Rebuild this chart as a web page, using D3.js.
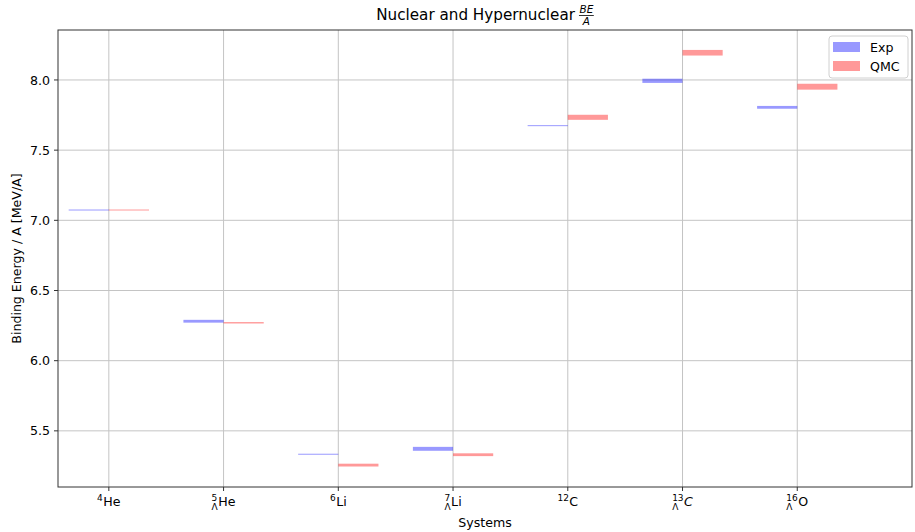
<!DOCTYPE html>
<html>
<head>
<meta charset="utf-8">
<script src="https://cdn.jsdelivr.net/npm/d3@7.8.5/dist/d3.min.js"></script>
<style>
  body { margin: 0; background: #fff; }
  svg { font-family: "DejaVu Sans", sans-serif; }
</style>
</head>
<body>
<svg id="chart" width="915" height="532"></svg>
<script>
// --- data ---
const massNumbers = ['4', '5', '6', '7', '12', '13', '16'];
const isHyper = [false, true, false, true, false, true, true];
const elements = ['He', 'He', 'Li', 'Li', 'C', 'C', 'O'];
const italicElem = [false, false, false, false, false, true, false];

const expValues = [7.074, 6.281, 5.334, 5.372, 7.675, 7.994, 7.805];
const expErrors = [0.003, 0.010, 0.003, 0.014, 0.003, 0.015, 0.010];
const qmcValues = [7.074, 6.270, 5.256, 5.330, 7.734, 8.194, 7.952];
const qmcErrors = [0.003, 0.005, 0.010, 0.010, 0.018, 0.020, 0.021];

const seriesNames = ['Exp', 'QMC'];
const seriesColors = ['#0000ff', '#ff0000'];
const yTicks = [5.5, 6.0, 6.5, 7.0, 7.5, 8.0];

const margin = { top: 30, right: 3, bottom: 45, left: 58 };
const W = 915, H = 532;
const innerW = W - margin.left - margin.right;
const innerH = H - margin.top - margin.bottom;
const barWidth = 0.35;
const fs = 12.6;

const svg = d3.select('#chart');
const g = svg.append('g').attr('transform', `translate(${margin.left},${margin.top})`);

const x = d3.scaleLinear().domain([-0.443, 7.0]).range([0, innerW]);
const y = d3.scaleLinear().domain([5.10, 8.356]).range([innerH, 0]);

const idx = d3.range(massNumbers.length);

// grid
g.append('g').selectAll('line.vg').data(idx).enter().append('line')
  .attr('x1', d => x(d)).attr('x2', d => x(d))
  .attr('y1', 0).attr('y2', innerH)
  .attr('stroke', '#c4c4c4').attr('stroke-width', 1);
g.append('g').selectAll('line.hg').data(yTicks).enter().append('line')
  .attr('x1', 0).attr('x2', innerW)
  .attr('y1', d => y(d)).attr('y2', d => y(d))
  .attr('stroke', '#c4c4c4').attr('stroke-width', 1);

// floating bars: value +/- error
const series = [
  { vals: expValues, errs: expErrors, off: -barWidth },
  { vals: qmcValues, errs: qmcErrors, off: 0 }
];
series.forEach((s, si) => {
  g.append('g').selectAll('rect').data(idx).enter().append('rect')
    .attr('x', d => x(d + s.off))
    .attr('width', x(barWidth) - x(0))
    .attr('y', d => y(s.vals[d] + s.errs[d]))
    .attr('height', d => Math.max(1, y(s.vals[d] - s.errs[d]) - y(s.vals[d] + s.errs[d])))
    .attr('fill', seriesColors[si])
    .attr('fill-opacity', 0.4);
});

// axes frame
g.append('rect').attr('width', innerW).attr('height', innerH)
  .attr('fill', 'none').attr('stroke', '#333').attr('stroke-width', 1);

// y ticks
const yAxis = g.append('g');
yTicks.forEach(t => {
  yAxis.append('line').attr('x1', -4).attr('x2', 0)
    .attr('y1', y(t)).attr('y2', y(t)).attr('stroke', '#333');
  yAxis.append('text').attr('x', -8).attr('y', y(t)).attr('dy', '0.36em')
    .attr('text-anchor', 'end').attr('font-size', fs).attr('fill', '#000')
    .text(t.toFixed(1));
});

// x ticks with nuclear notation labels
const xAxis = g.append('g').attr('transform', `translate(0,${innerH})`);
idx.forEach(i => {
  xAxis.append('line').attr('x1', x(i)).attr('x2', x(i))
    .attr('y1', 0).attr('y2', 4).attr('stroke', '#333');
  const lab = xAxis.append('g');
  const sup = lab.append('text').attr('x', 0).attr('y', -5)
    .attr('font-size', 9).text(massNumbers[i]);
  let preW = sup.node().getComputedTextLength();
  if (isHyper[i]) {
    const lam = lab.append('text').attr('x', 0).attr('y', 4.5)
      .attr('font-size', 9).text('Λ');
    preW = Math.max(preW, lam.node().getComputedTextLength());
  }
  const el = lab.append('text').attr('x', preW + 0.5).attr('y', 0)
    .attr('font-size', fs)
    .attr('font-style', italicElem[i] ? 'italic' : 'normal')
    .text(elements[i]);
  const total = preW + 0.5 + el.node().getComputedTextLength();
  lab.attr('transform', `translate(${x(i) - total / 2},18.5)`);
});

// axis labels
svg.append('text').attr('x', margin.left + innerW / 2).attr('y', 527)
  .attr('text-anchor', 'middle').attr('font-size', fs).text('Systems');
svg.append('text')
  .attr('transform', `translate(21,${margin.top + innerH / 2}) rotate(-90)`)
  .attr('text-anchor', 'middle').attr('font-size', fs)
  .text('Binding Energy / A [MeV/A]');

// title with BE/A fraction
const title = svg.append('g');
const tMain = title.append('text').attr('x', 0).attr('y', 20)
  .attr('font-size', 15.2).text('Nuclear and Hypernuclear');
const tw = tMain.node().getComputedTextLength() + 4;
const num = title.append('text').attr('y', 13).attr('font-size', 10.5)
  .attr('font-style', 'italic').attr('text-anchor', 'middle').text('BE');
const den = title.append('text').attr('y', 24.5).attr('font-size', 10.5)
  .attr('font-style', 'italic').attr('text-anchor', 'middle').text('A');
const fw = Math.max(num.node().getComputedTextLength(), den.node().getComputedTextLength()) + 1;
num.attr('x', tw + fw / 2);
den.attr('x', tw + fw / 2);
title.append('line').attr('x1', tw).attr('x2', tw + fw)
  .attr('y1', 15.5).attr('y2', 15.5).attr('stroke', '#000').attr('stroke-width', 0.8);
title.attr('transform', `translate(${margin.left + innerW / 2 - (tw + fw) / 2},0)`);

// legend
const legend = svg.append('g').attr('transform', 'translate(829,36)');
legend.append('rect').attr('width', 79).attr('height', 42).attr('rx', 3)
  .attr('fill', '#fff').attr('fill-opacity', 0.8)
  .attr('stroke', '#d0d0d0').attr('stroke-width', 1);
seriesNames.forEach((name, i) => {
  legend.append('rect').attr('x', 4).attr('y', 6 + i * 19).attr('width', 27).attr('height', 10)
    .attr('fill', seriesColors[i]).attr('fill-opacity', 0.4);
  legend.append('text').attr('x', 41).attr('y', 15.5 + i * 19)
    .attr('font-size', fs).text(name);
});
</script>
</body>
</html>
